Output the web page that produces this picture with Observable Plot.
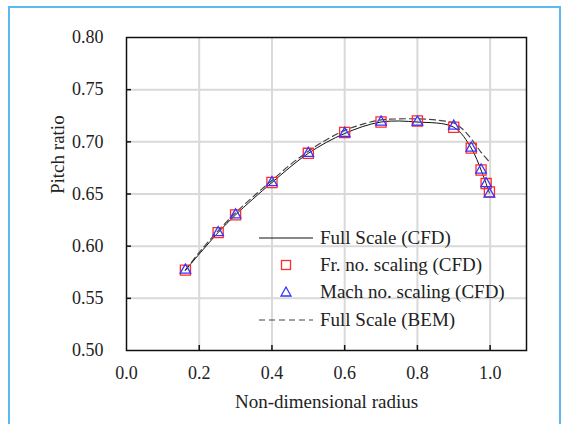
<!DOCTYPE html>
<html><head><meta charset="utf-8">
<script src="https://cdn.jsdelivr.net/npm/d3@7"></script>
<script src="https://cdn.jsdelivr.net/npm/@observablehq/plot@0.6"></script>
<style>
body{margin:0;background:#fff;}
#wrap{position:relative;width:562px;height:424px;overflow:hidden;background:#fff;font-family:"Liberation Serif","Times New Roman",serif;}
#border{position:absolute;left:8px;top:6px;width:553px;height:440px;border:2px solid #5cb8ee;box-sizing:border-box;pointer-events:none;}
#chart{position:absolute;left:0;top:0;}
#legend{position:absolute;left:258px;top:224px;}
.row{display:flex;align-items:center;height:27.3px;font-size:19px;color:#222;white-space:nowrap;}
.row svg{width:56px;height:20px;margin-right:6px;flex:none;}
</style></head><body>
<div id="wrap"><div id="chart"></div><div id="legend"></div><div id="border"></div></div>
<script>
// Data
const radius = [0.162, 0.252, 0.300, 0.400, 0.500, 0.600, 0.700, 0.800, 0.900, 0.948, 0.975, 0.989, 0.998];
const fullScaleCFD = [0.577, 0.613, 0.630, 0.661, 0.689, 0.708, 0.719, 0.719, 0.714, 0.694, 0.673, 0.660, 0.651];
const frScalingCFD = [0.577, 0.613, 0.630, 0.661, 0.689, 0.709, 0.719, 0.720, 0.714, 0.694, 0.673, 0.660, 0.652];
const machScalingCFD = [0.577, 0.613, 0.630, 0.661, 0.689, 0.708, 0.719, 0.719, 0.715, 0.694, 0.673, 0.660, 0.650];
const bemRadius = [0.162, 0.2, 0.25, 0.3, 0.35, 0.4, 0.45, 0.5, 0.55, 0.6, 0.65, 0.7, 0.75, 0.8, 0.85, 0.9, 0.925, 0.95, 0.975, 1.0];
const fullScaleBEM = [0.577, 0.594, 0.614, 0.632, 0.648, 0.663, 0.678, 0.691, 0.702, 0.711, 0.717, 0.721, 0.722, 0.722, 0.721, 0.718, 0.712, 0.702, 0.690, 0.680];
const xTicks = [0.0, 0.2, 0.4, 0.6, 0.8, 1.0];
const yTicks = [0.50, 0.55, 0.60, 0.65, 0.70, 0.75, 0.80];
const xGrid = [0.2, 0.4, 0.6, 0.8, 1.0];
const yGrid = [0.55, 0.60, 0.65, 0.70, 0.75];
const seriesNames = ["Full Scale (CFD)", "Fr. no. scaling (CFD)", "Mach no. scaling (CFD)", "Full Scale (BEM)"];
const xLabel = "Non-dimensional radius";
const yLabel = "Pitch ratio";

const cfd = radius.map((x, i) => ({x, y: fullScaleCFD[i]}));
const fr = radius.map((x, i) => ({x, y: frScalingCFD[i]}));
const mach = radius.map((x, i) => ({x, y: machScalingCFD[i]}));
const bem = bemRadius.map((x, i) => ({x, y: fullScaleBEM[i]}));

const W = 562, H = 424, mL = 126, mR = 36, mT = 37, mB = 74;
const plotW = W - mL - mR, plotH = H - mT - mB;

const chart = Plot.plot({
  width: W, height: H,
  marginLeft: mL, marginRight: mR, marginTop: mT, marginBottom: mB,
  style: {fontFamily: "'Liberation Serif','Times New Roman',serif", fontSize: "18px", color: "#222", background: "transparent"},
  x: {domain: [0, 1.1]},
  y: {domain: [0.5, 0.8]},
  marks: [
    Plot.ruleX(xGrid, {x: d => d, stroke: "#d9d9d9", strokeWidth: 2}),
    Plot.ruleY(yGrid, {y: d => d, stroke: "#d9d9d9", strokeWidth: 2}),
    Plot.tickX(xGrid, {x: d => d, stroke: "#111", strokeWidth: 1.5, insetTop: plotH - 5}),
    Plot.tickY(yGrid, {y: d => d, stroke: "#111", strokeWidth: 1.5, insetRight: plotW - 5}),
    Plot.frame({stroke: "#111", strokeWidth: 1.5}),
    Plot.axisX(xTicks, {tickSize: 0, tickPadding: 16, tickFormat: d3.format(".1f"), label: null, fontSize: 18}),
    Plot.axisY(yTicks, {tickSize: 0, tickPadding: 23, tickFormat: d3.format(".2f"), label: null, fontSize: 18}),
    Plot.text([xLabel], {frameAnchor: "bottom", dy: 57, text: d => d, fontSize: 19}),
    Plot.text([yLabel], {frameAnchor: "left", rotate: -90, dx: -69, text: d => d, fontSize: 19}),
    Plot.line(bem, {x: "x", y: "y", curve: "catmull-rom", stroke: "#444", strokeWidth: 1.2, strokeDasharray: "6,4"}),
    Plot.line(cfd, {x: "x", y: "y", curve: "catmull-rom", stroke: "#111", strokeWidth: 1}),
    Plot.dot(fr, {x: "x", y: "y", symbol: "square", r: 5.7, stroke: "#ff2a2a", strokeWidth: 1.3, fill: "none"}),
    Plot.dot(mach, {x: "x", y: "y", symbol: "triangle", r: 3.9, stroke: "#3535ff", strokeWidth: 1.3, fill: "none"})
  ]
});
document.getElementById("chart").appendChild(chart);

// Legend
const swatches = [
  '<svg viewBox="0 0 56 20"><line x1="1" x2="55" y1="10" y2="10" stroke="#111" stroke-width="1"/></svg>',
  '<svg viewBox="0 0 56 20"><rect x="23.5" y="5.5" width="9" height="9" fill="none" stroke="#ff2a2a" stroke-width="1.3"/></svg>',
  '<svg viewBox="0 0 56 20"><path d="M28,5 L33,14 L23,14 Z" fill="none" stroke="#3535ff" stroke-width="1.3"/></svg>',
  '<svg viewBox="0 0 56 20"><line x1="1" x2="55" y1="10" y2="10" stroke="#444" stroke-width="1.2" stroke-dasharray="6,4"/></svg>'
];
const legend = document.getElementById("legend");
seriesNames.forEach((name, i) => {
  const row = document.createElement("div");
  row.className = "row";
  row.innerHTML = swatches[i] + "<span>" + name + "</span>";
  legend.appendChild(row);
});
</script>
</body></html>
